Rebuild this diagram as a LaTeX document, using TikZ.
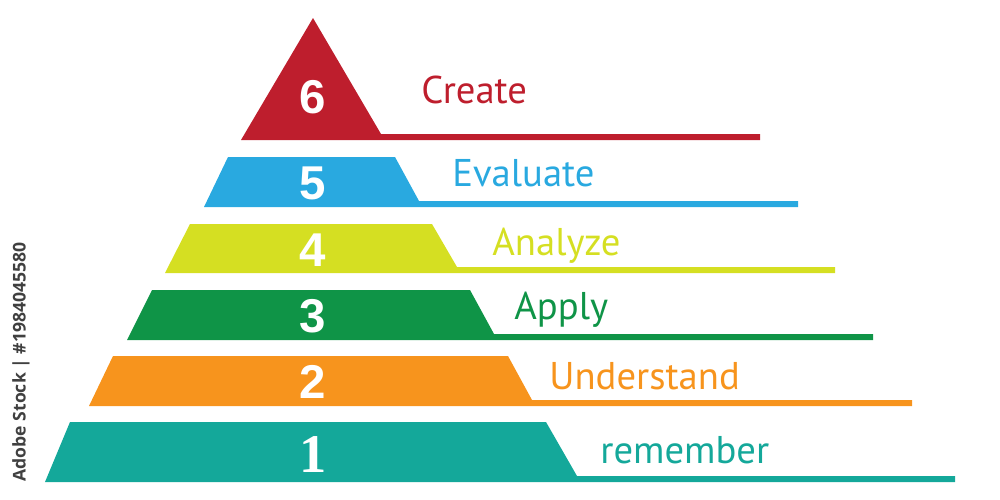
\documentclass[tikz,border=0pt]{standalone}
\usepackage{fontspec}
\setmainfont{PT Sans}
\newfontfamily\numfont{Liberation Sans}
\newfontfamily\numserif{Liberation Serif}
\newfontfamily\markfont{Open Sans}
\definecolor{levelRed}{RGB}{190,30,45}
\definecolor{levelBlue}{RGB}{41,169,224}
\definecolor{levelLime}{RGB}{213,223,34}
\definecolor{levelGreen}{RGB}{15,148,71}
\definecolor{levelOrange}{RGB}{247,148,29}
\definecolor{levelTeal}{RGB}{20,168,154}
\begin{document}
\begin{tikzpicture}[x=0.2mm, y=-0.2mm,
    numStyle/.style={text=white, font=\numfont\bfseries\fontsize{27}{27}\selectfont, inner sep=0pt},
    labelStyle/.style={anchor=base west, font=\fontsize{22}{22}\selectfont, inner sep=0pt}]
    \useasboundingbox (0,0) rectangle (1000,500);

    % level 6
    \fill[levelRed] (241,140) -- (313,18) -- (381,134) -- (760,134) -- (760,140) -- cycle;
    \node[numStyle](n6) at (313,97) {6};
    \node[labelStyle, text=levelRed](l6) at (421,103) {Create};

    % level 5
    \fill[levelBlue] (204,207) -- (228,157) -- (395,157) -- (419,201) -- (798,201) -- (798,207) -- cycle;
    \node[numStyle](n5) at (313,183) {5};
    \node[labelStyle, text=levelBlue](l5) at (452,186) {Evaluate};

    % level 4
    \fill[levelLime] (165,273) -- (190,224) -- (432,224) -- (457,267) -- (835,267) -- (835,273) -- cycle;
    \node[numStyle](n4) at (313,250) {4};
    \node[labelStyle, text=levelLime](l4) at (492,255) {Analyze};

    % level 3
    \fill[levelGreen] (127,340) -- (152,290) -- (470,290) -- (494,334) -- (873,334) -- (873,340) -- cycle;
    \node[numStyle](n3) at (313,316) {3};
    \node[labelStyle, text=levelGreen](l3) at (514,319) {Apply};

    % level 2
    \fill[levelOrange] (89,406) -- (113,356) -- (508,356) -- (532,400) -- (912,400) -- (912,406) -- cycle;
    \node[numStyle](n2) at (313,382) {2};
    \node[labelStyle, text=levelOrange](l2) at (549,389) {Understand};

    % level 1
    \fill[levelTeal] (45,482) -- (70,422) -- (546,422) -- (577,476) -- (955,476) -- (955,482) -- cycle;
    \node[numStyle, font=\numserif\bfseries\fontsize{31}{31}\selectfont](n1) at (313,455) {1};
    \node[labelStyle, text=levelTeal](l1) at (600,463) {remember};

    \node[rotate=90, text=black!75, font=\markfont\bfseries\fontsize{10}{10}\selectfont](mark) at (21,362) {Adobe Stock | \#1984045580};
\end{tikzpicture}
\end{document}
